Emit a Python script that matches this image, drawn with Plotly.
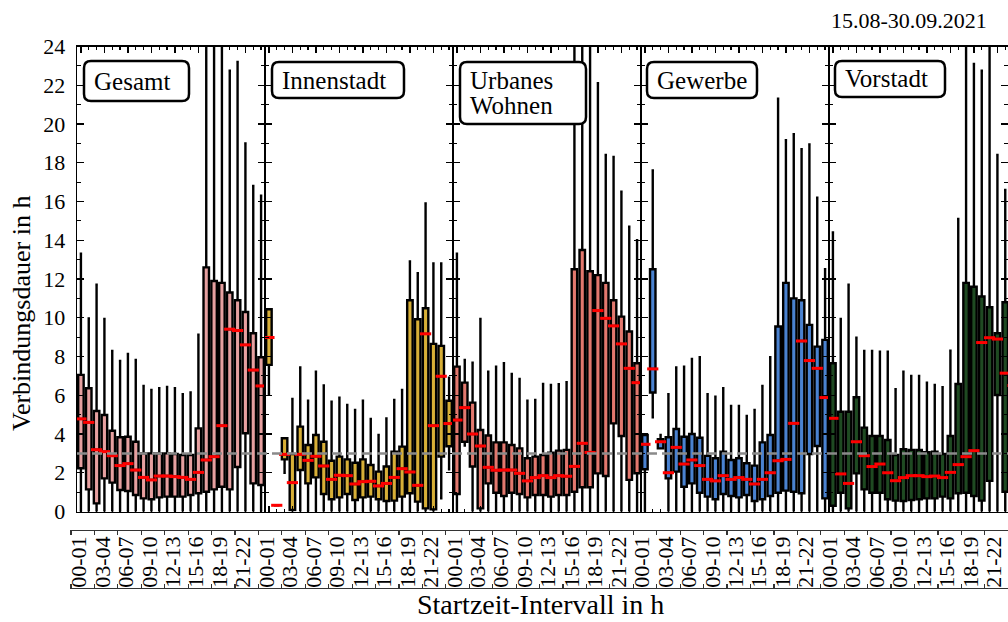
import plotly.graph_objects as go

# ---------------- data ----------------
hours = [f"{h:02d}-{h+1:02d}" for h in range(24)]
panel_names = [["Gesamt"], ["Innenstadt"], ["Urbanes", "Wohnen"], ["Gewerbe"], ["Vorstadt"]]
panel_colors = ["#e6a0a0", "#d7af37", "#e2786e", "#4a82d0", "#1f4a22"]
date_label = "15.08-30.09.2021"

gesamt_med = [4.78, 4.6, 3.19, 3.09, 2.88, 2.37, 2.47, 2.14, 1.76, 1.63, 1.83, 1.83, 1.8, 1.76, 1.66, 2.02, 2.66, 2.83, 4.43, 9.41, 9.34, 8.6, 7.3, 6.48]
gesamt_q1 = [2.23, 1.14, 0.42, 1.71, 1.49, 1.11, 1.06, 0.85, 0.68, 0.63, 0.73, 0.77, 0.77, 0.77, 0.85, 0.94, 1.02, 1.14, 1.28, 1.14, 2.3, 4.04, 1.45, 1.37]
gesamt_q3 = [7.05, 6.36, 5.19, 4.98, 4.17, 3.83, 3.86, 3.6, 3.0, 3.0, 3.0, 3.0, 2.97, 2.92, 2.92, 4.29, 12.6, 11.9, 11.8, 11.3, 10.9, 10.3, 9.2, 7.96]
gesamt_hi = [13.3, 9.97, 11.7, 9.94, 8.29, 7.77, 8.13, 7.82, 6.48, 6.27, 6.37, 6.43, 6.37, 6.05, 6.14, 9.12, 26, 26, 26, 22.75, 23.2, 19.0, 16.8, 16.3]
gesamt_lo = [0] * 24

innen_med = [8.98, 0.32, 2.95, 1.49, 2.95, 2.64, 2.85, 2.35, 1.66, 1.87, 1.85, 1.42, 1.54, 1.56, 1.32, 1.45, 1.76, 2.21, 2.04, 1.35, 9.17, 4.43, 6.98, 4.54]
innen_q1 = [7.57, 0.32, 2.69, 0.08, 2.14, 1.45, 1.76, 0.9, 0.63, 0.73, 0.9, 0.59, 0.73, 0.77, 0.63, 0.54, 0.56, 0.77, 0.94, 0.51, 0.16, 0.11, 2.83, 3.37]
innen_q3 = [10.44, 0.32, 3.78, 2.97, 4.38, 3.43, 3.95, 3.6, 2.62, 2.83, 2.69, 2.52, 2.69, 2.4, 2.06, 2.32, 3.09, 3.35, 10.9, 9.92, 10.49, 8.65, 8.55, 5.72]
innen_hi = [10.44, 0.32, 3.78, 5.81, 7.43, 5.72, 7.22, 6.51, 5.67, 5.88, 5.5, 5.24, 5.72, 4.78, 3.95, 4.8, 5.76, 6.27, 12.9, 12.3, 15.9, 12.8, 12.8, 6.91]
innen_lo = [6.05, 0.32, 2.0, 0, 0, 0, 0, 0, 0, 0, 0, 0, 0, 0, 0, 0, 0, 0, 0, 0, 0, 0, 0.68, 2.18]

urban_med = [4.72, 5.36, 4.0, 3.38, 2.28, 2.13, 2.14, 2.14, 1.97, 1.58, 1.75, 1.85, 1.75, 1.85, 1.82, 2.33, 3.52, 3.05, 10.37, 9.97, 9.58, 8.65, 7.39, 6.65]
urban_q1 = [0.9, 3.6, 2.32, 0.16, 1.45, 0.97, 0.8, 0.97, 0.9, 0.73, 0.85, 0.85, 0.77, 0.85, 0.85, 1.02, 1.25, 1.25, 1.97, 1.83, 4.55, 3.9, 1.63, 1.97]
urban_q3 = [7.48, 6.65, 5.62, 4.21, 3.92, 3.57, 3.57, 3.43, 3.26, 2.75, 2.83, 2.92, 3.04, 3.14, 3.18, 12.5, 13.5, 12.4, 12.2, 11.8, 10.9, 10.06, 9.29, 7.65]
urban_hi = [13.3, 7.82, 7.68, 9.94, 7.22, 7.48, 7.65, 7.1, 6.84, 5.72, 5.76, 6.58, 6.53, 6.57, 6.67, 26, 26, 26, 22.1, 18.4, 18.3, 16.5, 14.7, 14.0]
urban_lo = [0, 3.4, 0, 0, 0, 0, 0, 0, 0, 0, 0, 0, 0, 0, 0, 0, 0, 0, 0, 0, 0, 0, 0, 0]

gewerbe_med = [3.47, 7.36, 3.6, 2.0, 3.31, 2.45, 2.66, 2.37, 1.66, 1.58, 1.85, 1.66, 1.75, 1.66, 1.42, 1.66, 2.0, 2.62, 2.69, 4.55, 8.8, 7.79, 7.39, 5.88]
gewerbe_q1 = [2.18, 6.14, 3.26, 1.71, 2.06, 1.28, 1.45, 0.97, 0.77, 0.63, 0.9, 0.8, 0.73, 0.85, 0.54, 0.63, 0.8, 0.97, 1.08, 1.02, 0.94, 2.97, 3.38, 0.68]
gewerbe_q3 = [3.95, 12.5, 3.73, 3.83, 4.26, 3.86, 4.0, 3.81, 2.87, 2.75, 3.09, 2.66, 2.75, 2.49, 2.37, 3.57, 3.95, 9.55, 11.8, 11.0, 10.9, 9.63, 8.51, 8.86]
gewerbe_hi = [3.95, 17.6, 3.95, 6.05, 7.43, 7.48, 7.87, 7.96, 6.05, 5.93, 6.36, 5.45, 5.45, 4.93, 5.24, 6.48, 7.96, 21.3, 19.17, 19.47, 18.7, 18.95, 16.2, 12.5]
gewerbe_lo = [0, 4.86, 3.26, 0, 0, 0, 0, 0, 0, 0, 0, 0, 0, 0, 0, 0, 0, 0, 0, 0, 0, 0, 0, 0]

vor_med = [4.81, 1.94, 1.45, 3.6, 2.88, 2.32, 2.45, 2.0, 1.59, 1.75, 1.85, 1.85, 1.8, 1.83, 1.75, 2.02, 2.42, 2.83, 3.14, 8.72, 8.97, 8.9, 7.14, 6.5]
vor_q1 = [0.3, 0.97, 0.16, 1.97, 1.14, 0.97, 0.97, 0.63, 0.56, 0.54, 0.59, 0.63, 0.68, 0.68, 0.77, 0.68, 0.94, 0.97, 0.8, 0.56, 1.58, 6.01, 1.02, 1.5]
vor_q3 = [7.65, 5.15, 5.15, 5.9, 4.33, 3.9, 3.9, 3.69, 2.92, 3.21, 3.18, 3.18, 3.06, 3.09, 2.97, 3.9, 6.58, 11.8, 11.6, 11.1, 10.54, 9.2, 10.8, 9.0]
vor_hi = [14.4, 9.94, 11.7, 8.97, 8.29, 8.29, 8.25, 8.25, 6.31, 7.22, 7.0, 7.0, 6.65, 6.53, 6.41, 8.3, 15.1, 26, 23.1, 22.75, 26, 18.4, 16.6, 15.0]
vor_lo = [0] * 24

panel_stats = [
    (gesamt_q1, gesamt_med, gesamt_q3, gesamt_lo, gesamt_hi),
    (innen_q1, innen_med, innen_q3, innen_lo, innen_hi),
    (urban_q1, urban_med, urban_q3, urban_lo, urban_hi),
    (gewerbe_q1, gewerbe_med, gewerbe_q3, gewerbe_lo, gewerbe_hi),
    (vor_q1, vor_med, vor_q3, vor_lo, vor_hi),
]
reference_line = 3

# ---------------- layout constants ----------------
W, H = 1008, 622
FONT = "Liberation Serif"
PX_LEFT, PANEL_W = 77, 188
PX_PER_UNIT = PANEL_W / 24
Y_TOP_PX, Y_BOT_PX = 46.5, 511.5


def px(x):
    return x / W


def py(y):
    return 1 - y / H


fig = go.Figure()
layout = dict(
    width=W, height=H, margin=dict(l=0, r=0, t=0, b=0, autoexpand=False),
    paper_bgcolor="white", plot_bgcolor="rgba(0,0,0,0)", showlegend=False,
    font=dict(family=FONT, size=22, color="black"),
)

for k, (q1, med, q3, lo, hi) in enumerate(panel_stats):
    n = k + 1
    xs = [24 * k + h for h in range(24)]
    xa = f"x{n}" if n > 1 else "x"
    ya = f"y{n}" if n > 1 else "y"
    fig.add_trace(go.Box(
        x=xs, q1=q1, median=med, q3=q3, lowerfence=lo, upperfence=hi,
        xaxis=xa, yaxis=ya, fillcolor=panel_colors[k],
        line=dict(color="black", width=2.4), whiskerwidth=0.45, width=0.7,
        boxpoints=False, hoverinfo="skip",
    ))
    fig.add_trace(go.Scatter(
        x=xs, y=med, mode="markers", xaxis=xa, yaxis=ya, hoverinfo="skip",
        marker=dict(symbol="line-ew", size=8, color="red", line=dict(color="red", width=3)),
    ))
    left = PX_LEFT + PANEL_W * k
    right = min(left + PANEL_W, W)
    r0 = 24 * k - 0.5
    r1 = r0 + (right - left) / PX_PER_UNIT
    layout[f"xaxis{n if n > 1 else ''}"] = dict(
        domain=[px(left), px(right)], range=[r0, r1], anchor=ya, automargin=False,
        showline=True, linecolor="black", linewidth=1.4, mirror="ticks",
        ticks="inside", tickmode="linear", tick0=0, dtick=3, ticklen=6, tickwidth=1.3,
        tickcolor="black", showticklabels=False, showgrid=False, zeroline=False,
        minor=dict(ticks="inside", dtick=1, tick0=0, ticklen=3, tickwidth=1.2, tickcolor="black", showgrid=False),
    )
    layout[f"yaxis{n if n > 1 else ''}"] = dict(
        domain=[py(Y_BOT_PX), py(Y_TOP_PX)], range=[0, 24], anchor=xa, automargin=False,
        showline=True, linecolor="black", linewidth=1.4, mirror="ticks",
        ticks="inside", tickmode="linear", tick0=0, dtick=2, ticklen=7, tickwidth=1.3,
        tickcolor="black", showticklabels=(k == 0), showgrid=False, zeroline=False,
        tickfont=dict(size=22, family=FONT), ticklabelstandoff=6,
        minor=dict(ticks="inside", dtick=1, ticklen=4, tickwidth=1.2, tickcolor="black", showgrid=False),
    )

# hour label axis (labels) and its two tick lines, on a hidden full-page y axis
label_vals = list(range(0, 120, 3))
label_text = [hours[v % 24] for v in label_vals]
LBL_X0, LBL_STEP = 79, 7.82
TCK_X0, TCK_STEP = 71, 7.81
layout["yaxis6"] = dict(domain=[0, 1], range=[0, 1], visible=False, anchor="x6", fixedrange=True, automargin=False)
layout["xaxis6"] = dict(
    domain=[0, 1], range=[-LBL_X0 / LBL_STEP, (W - LBL_X0) / LBL_STEP], automargin=False,
    anchor="free", position=py(531), side="bottom", showline=False, ticks="",
    tickmode="array", tickvals=label_vals, ticktext=label_text, tickangle=-90,
    tickfont=dict(size=22, family=FONT), showgrid=False, zeroline=False,
)
for name, pos, side in (("xaxis7", 530, "bottom"), ("xaxis8", 588, "top")):
    layout[name] = dict(
        domain=[px(70), 1], range=[(70 - TCK_X0) / TCK_STEP, (W - TCK_X0) / TCK_STEP],
        anchor="free", position=py(pos), side=side, showline=True, linecolor="#333",
        linewidth=1.2, ticks="outside", ticklen=4, tickwidth=1.2, tickcolor="#333",
        tickmode="array", tickvals=label_vals, showticklabels=False, automargin=False,
        showgrid=False, zeroline=False,
    )
for xa in ("x6", "x7", "x8"):
    fig.add_trace(go.Scatter(x=[label_vals[0]], y=[-5], xaxis=xa, yaxis="y6", mode="markers",
                             marker=dict(opacity=0), hoverinfo="skip"))

# reference dashed line
shapes = [dict(type="line", xref="paper", yref="y", x0=px(PX_LEFT), x1=1, y0=reference_line,
               y1=reference_line, line=dict(color="#8a8a8a", width=2.5, dash="10px,5px"), layer="above")]


def rrect(x0, y0, x1, y1, r=7):
    def P(x, y):
        return f"{px(x):.5f},{py(y):.5f}"
    return (f"M{P(x0 + r, y0)} L{P(x1 - r, y0)} Q{P(x1, y0)} {P(x1, y0 + r)} "
            f"L{P(x1, y1 - r)} Q{P(x1, y1)} {P(x1 - r, y1)} L{P(x0 + r, y1)} "
            f"Q{P(x0, y1)} {P(x0, y1 - r)} L{P(x0, y0 + r)} Q{P(x0, y0)} {P(x0 + r, y0)} Z")


label_boxes = [(84, 61, 189, 101), (272, 62, 404, 98), (460, 62, 586, 124), (647, 62, 757, 98), (835, 61, 945, 97)]
LINE_GAP = 25
annotations = []
for lines, (x0, y0, x1, y1) in zip(panel_names, label_boxes):
    shapes.append(dict(type="path", xref="paper", yref="paper", path=rrect(x0, y0, x1, y1),
                       line=dict(color="black", width=2.5), fillcolor="white", layer="above"))
    yc = (y0 + y1) / 2 - (len(lines) - 1) * LINE_GAP / 2
    for i, line in enumerate(lines):
        annotations.append(dict(xref="paper", yref="paper", x=px(x0 + 8), y=py(yc + i * LINE_GAP),
                                xanchor="left", yanchor="middle", align="left", showarrow=False,
                                text=line, font=dict(size=25, family=FONT)))

annotations += [
    dict(xref="paper", yref="paper", x=px(989), y=py(21), xanchor="right", yanchor="middle",
         showarrow=False, text=date_label, font=dict(size=22, family=FONT)),
    dict(xref="paper", yref="paper", x=px(540), y=py(604), xanchor="center", yanchor="middle",
         showarrow=False, text="Startzeit-Intervall in h", font=dict(size=28, family=FONT)),
    dict(xref="paper", yref="paper", x=px(22), y=py(314), xanchor="center", yanchor="middle",
         showarrow=False, textangle=-90, text="Verbindungsdauer in h", font=dict(size=26, family=FONT)),
]
layout["shapes"] = shapes
layout["annotations"] = annotations
fig.update_layout(**layout)
fig.write_html(
    "out.html",
    config={"displayModeBar": False, "staticPlot": True},
    post_script="document.body.style.margin='0';document.body.style.overflow='hidden';",
)
